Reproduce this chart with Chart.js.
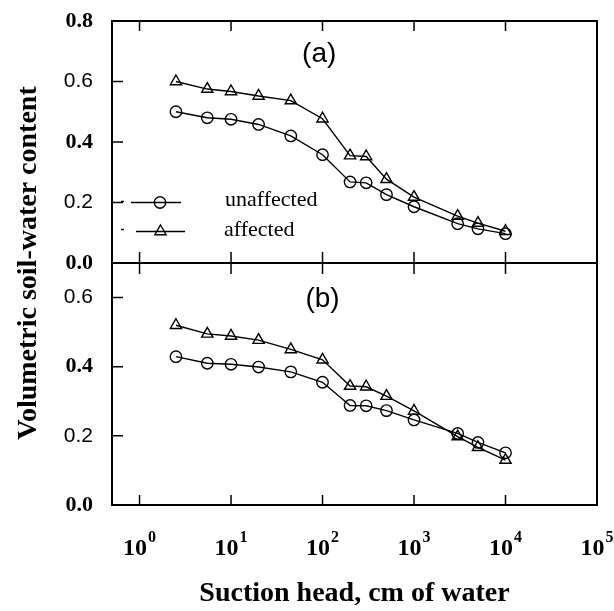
<!DOCTYPE html>
<html>
<head>
<meta charset="utf-8">
<script src="https://cdn.jsdelivr.net/npm/chart.js@4.4.1/dist/chart.umd.min.js"></script>
<style>
  html, body { margin: 0; padding: 0; background: #fff; }
  #wrap { width: 614px; height: 611px; }
</style>
</head>
<body>
<div id="wrap"><canvas id="chart" width="614" height="611"></canvas></div>
<script>
// suction head, cm of water (x)
const suction = [2.5, 5.5, 10, 20, 45, 100, 200, 300, 500, 1000, 3000, 5000, 10000];

// panel (a)
const unaffectedA = [0.50, 0.48, 0.475, 0.458, 0.42, 0.358, 0.268, 0.265, 0.226, 0.186, 0.13, 0.113, 0.097];
const affectedA   = [0.60, 0.575, 0.567, 0.552, 0.537, 0.477, 0.355, 0.352, 0.277, 0.218, 0.155, 0.132, 0.105];

// panel (b)
const unaffectedB = [0.429, 0.41, 0.407, 0.399, 0.385, 0.355, 0.288, 0.287, 0.273, 0.246, 0.207, 0.181, 0.151];
const affectedB   = [0.52, 0.495, 0.489, 0.477, 0.45, 0.42, 0.344, 0.342, 0.315, 0.272, 0.198, 0.167, 0.13];

const xExponents = [0, 1, 2, 3, 4, 5];
const legendLabels = ['unaffected', 'affected'];
const panelLabels = ['(a)', '(b)'];

const SERIF = '"Liberation Serif", "Times New Roman", serif';
const SANS = '"Liberation Sans", Arial, sans-serif';

const pts = (ys) => suction.map((x, i) => ({ x: x, y: ys[i] }));

function series(label, ys, axis, style, r) {
  return {
    label: label,
    data: pts(ys),
    yAxisID: axis,
    borderColor: '#000',
    borderWidth: 1.4,
    pointStyle: style,
    pointRadius: r,
    pointBorderWidth: 1.4,
    pointBorderColor: '#000',
    pointBackgroundColor: 'rgba(0,0,0,0)',
    fill: false,
    tension: 0
  };
}

// bold serif for 0.0 / 0.4 / 0.8, plain sans for the others (as in the original)
function tickFont(ctx) {
  const v = ctx.tick ? ctx.tick.value : 0;
  const bold = Math.round(v * 10) % 4 === 0;
  return bold ? { family: SERIF, weight: 'bold', size: 22 } : { family: SANS, size: 21 };
}

function yAxis(max) {
  return {
    type: 'linear',
    position: 'left',
    stack: 'panels',
    stackWeight: 1,
    min: 0,
    max: max,
    grid: { display: false, drawTicks: false },
    border: { display: false },
    ticks: {
      stepSize: 0.2,
      includeBounds: false,
      padding: 19,
      color: '#000',
      font: tickFont,
      callback: (v) => v.toFixed(1)
    },
    afterFit: (s) => {
      s.width = 112;
      // labels may overhang; keep the plot box where the original has it
      s.paddingTop = 0;
      s.paddingBottom = 0;
    }
  };
}

const decor = {
  id: 'decor',
  afterDatasetsDraw(chart) {
    const ctx = chart.ctx;
    const x = chart.scales.x;
    const yA = chart.scales.yA;
    const yB = chart.scales.yB;
    const top = Math.min(yA.top, yB.top);
    const bottom = Math.max(yA.bottom, yB.bottom);
    const upper = yA.top < yB.top ? yA : yB;
    const lower = upper === yA ? yB : yA;
    const mid = upper.bottom;
    const L = x.left, R = x.right;

    ctx.save();
    ctx.strokeStyle = '#000';

    // frame and divider
    ctx.lineWidth = 2;
    ctx.strokeRect(L, top, R - L, bottom - top);
    ctx.beginPath();
    ctx.moveTo(L, mid); ctx.lineTo(R, mid);
    ctx.stroke();

    // x ticks
    ctx.lineWidth = 1.5;
    ctx.beginPath();
    xExponents.forEach((e) => {
      const px = x.getPixelForValue(Math.pow(10, e));
      if (px > R - 2) return;
      ctx.moveTo(px, top); ctx.lineTo(px, top + 10);
      ctx.moveTo(px, mid - 11); ctx.lineTo(px, mid + 11);
      ctx.moveTo(px, bottom - 10); ctx.lineTo(px, bottom);
    });
    // y ticks (inward)
    [yA, yB].forEach((s) => {
      s.ticks.forEach((t) => {
        const py = s.getPixelForValue(t.value);
        ctx.moveTo(L, py); ctx.lineTo(L + 11, py);
      });
      const p0 = s.getPixelForValue(0);
      ctx.moveTo(R - 10, p0); ctx.lineTo(R, p0);
    });
    ctx.stroke();

    // x tick labels 10^n
    ctx.fillStyle = '#000';
    ctx.textBaseline = 'alphabetic';
    ctx.textAlign = 'left';
    const base = bottom + 50;
    xExponents.forEach((e) => {
      const px = x.getPixelForValue(Math.pow(10, e));
      ctx.font = 'bold 24px ' + SERIF;
      const w1 = ctx.measureText('10').width;
      ctx.font = 'bold 16px ' + SERIF;
      const w2 = ctx.measureText(String(e)).width;
      const start = px - (w1 + w2 + 1) / 2;
      ctx.font = 'bold 24px ' + SERIF;
      ctx.fillText('10', start, base);
      ctx.font = 'bold 16px ' + SERIF;
      ctx.fillText(String(e), start + w1 + 1, base - 13);
    });

    // axis titles
    ctx.font = 'bold 28px ' + SERIF;
    ctx.textAlign = 'center';
    ctx.fillText('Suction head, cm of water', (L + R) / 2, bottom + 96);
    ctx.save();
    ctx.translate(36, (top + bottom) / 2);
    ctx.rotate(-Math.PI / 2);
    ctx.fillText('Volumetric soil-water content', 0, 0);
    ctx.restore();

    // panel labels
    ctx.font = '28px ' + SANS;
    ctx.textBaseline = 'middle';
    ctx.fillText(panelLabels[0], x.getPixelForValue(92), upper.getPixelForValue(0.69));
    ctx.fillText(panelLabels[1], x.getPixelForValue(100), lower.getPixelForValue(0.595));

    // legend (panel a)
    const ly1 = upper.getPixelForValue(0.2);
    const ly2 = ly1 + 29;
    ctx.lineWidth = 1.4;
    ctx.beginPath();
    ctx.moveTo(L + 19, ly1); ctx.lineTo(L + 69, ly1);
    ctx.moveTo(L + 24, ly2); ctx.lineTo(L + 73, ly2);
    // small stray dashes of the original
    ctx.moveTo(L + 9, ly1 - 1); ctx.lineTo(L + 12, ly1 - 1);
    ctx.moveTo(L + 9, ly2 - 2); ctx.lineTo(L + 12, ly2 - 2);
    ctx.stroke();
    ctx.beginPath();
    ctx.arc(L + 48, ly1, 5.7, 0, Math.PI * 2);
    ctx.stroke();
    const tr = 6.5, tx = L + 48.5, ty = ly2;
    ctx.beginPath();
    ctx.moveTo(tx, ty - tr);
    ctx.lineTo(tx + Math.sin(2 * Math.PI / 3) * tr, ty + tr / 2);
    ctx.lineTo(tx - Math.sin(2 * Math.PI / 3) * tr, ty + tr / 2);
    ctx.closePath();
    ctx.stroke();
    ctx.font = '22px ' + SERIF;
    ctx.textAlign = 'left';
    ctx.fillText(legendLabels[0], L + 113, ly1 - 2);
    ctx.fillText(legendLabels[1], L + 112, ly2 - 1);

    ctx.restore();
  }
};

new Chart(document.getElementById('chart'), {
  type: 'line',
  data: {
    datasets: [
      series(legendLabels[0], unaffectedA, 'yA', 'circle', 5.7),
      series(legendLabels[1], affectedA, 'yA', 'triangle', 6.5),
      series(legendLabels[0], unaffectedB, 'yB', 'circle', 5.7),
      series(legendLabels[1], affectedB, 'yB', 'triangle', 6.5)
    ]
  },
  options: {
    responsive: false,
    animation: false,
    events: [],
    layout: { padding: { top: 21, right: 17, left: 0, bottom: 0 } },
    plugins: { legend: { display: false }, tooltip: { enabled: false } },
    scales: {
      x: {
        type: 'logarithmic',
        min: 0.5,
        max: 100000,
        grid: { display: false, drawTicks: false },
        border: { display: false },
        ticks: { display: false },
        afterFit: (s) => { s.height = 106; }
      },
      yB: yAxis(0.7),
      yA: yAxis(0.8)
    }
  },
  plugins: [decor]
});
</script>
</body>
</html>
